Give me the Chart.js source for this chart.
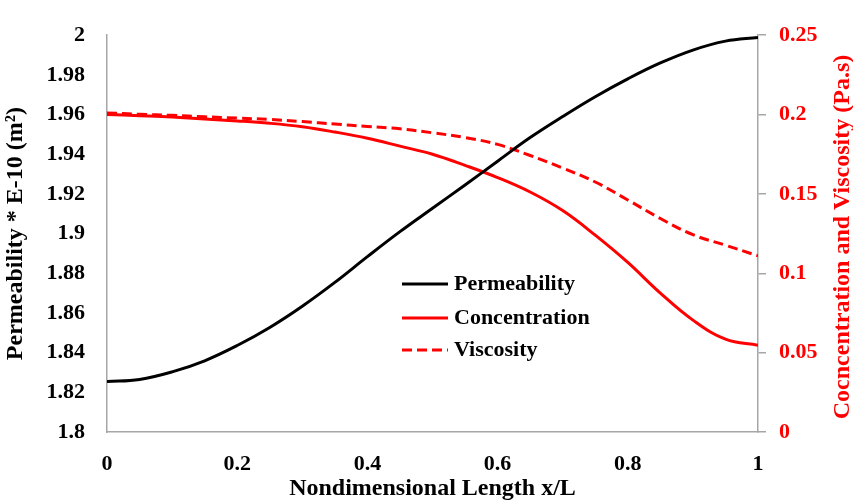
<!DOCTYPE html>
<html>
<head>
<meta charset="utf-8">
<script src="https://cdn.jsdelivr.net/npm/chart.js@4/dist/chart.umd.min.js"></script>
<style>
  html, body { margin: 0; padding: 0; background: #ffffff; }
  #wrap { width: 853px; height: 502px; }
</style>
</head>
<body>
<div id="wrap"><canvas id="c" width="853" height="502"></canvas></div>
<script>
// ---- data ----
const xPositions = [0, 0.05, 0.1, 0.15, 0.2, 0.25, 0.3, 0.35, 0.4, 0.45, 0.5,
                    0.55, 0.6, 0.65, 0.7, 0.75, 0.8, 0.85, 0.9, 0.95, 1.0];
const permeability = [1.8254, 1.8265, 1.8303, 1.8359, 1.8436, 1.8527, 1.8634, 1.8754, 1.8884, 1.9010, 1.9128,
                      1.9245, 1.9365, 1.9484, 1.9590, 1.9690, 1.9780, 1.9860, 1.9925, 1.9970, 1.9989];
const concentration = [0.2000, 0.1993, 0.1984, 0.1972, 0.1960, 0.1945, 0.1923, 0.1890, 0.1851, 0.1801, 0.1750,
                       0.1680, 0.1603, 0.1512, 0.1395, 0.1240, 0.1068, 0.0875, 0.0705, 0.0585, 0.0547];
const viscosity = [0.2010, 0.2002, 0.1995, 0.1986, 0.1978, 0.1969, 0.1956, 0.1940, 0.1925, 0.1910, 0.1885,
                   0.1855, 0.1812, 0.1742, 0.1663, 0.1575, 0.1462, 0.1345, 0.1243, 0.1177, 0.1110];
const seriesNames = ['Permeability', 'Concentration', 'Viscosity'];
const xTicks = [0, 0.2, 0.4, 0.6, 0.8, 1];
const leftTicks = [1.8, 1.82, 1.84, 1.86, 1.88, 1.9, 1.92, 1.94, 1.96, 1.98, 2];
const rightTicks = [0, 0.05, 0.1, 0.15, 0.2, 0.25];
const xTitle = 'Nondimensional Length x/L';
const leftTitle = 'Permeability * E-10 (m\u00B2)';
const rightTitle = 'Cocncentration and Viscosity (Pa.s)';

const pts = (ys) => xPositions.map((x, i) => ({ x: x, y: ys[i] }));
const fmt = (v) => String(parseFloat(Number(v).toFixed(3)));

const FAMILY = "'Liberation Serif', 'Times New Roman', serif";
Chart.defaults.font.family = FAMILY;
Chart.defaults.font.weight = 'bold';
Chart.defaults.font.size = 22;
Chart.defaults.color = '#000000';

const axisGray = '#a6a6a6';

const legendPlugin = {
  id: 'insideLegend',
  afterDraw(chart) {
    const ctx = chart.ctx;
    const rows = [284, 318, 350];
    ctx.save();
    chart.data.datasets.forEach((ds, i) => {
      const y = rows[i];
      ctx.beginPath();
      ctx.strokeStyle = ds.borderColor;
      ctx.lineWidth = ds.borderWidth;
      ctx.setLineDash(ds.borderDash || []);
      ctx.moveTo(402, y);
      ctx.lineTo(448, y);
      ctx.stroke();
      ctx.setLineDash([]);
      ctx.fillStyle = '#000000';
      ctx.font = "bold 22px " + FAMILY;
      ctx.textBaseline = 'middle';
      ctx.textAlign = 'left';
      ctx.fillText(ds.label, 454, y);
    });
    ctx.restore();
  }
};

const rightTitlePlugin = {
  id: 'rightTitle',
  afterDraw(chart) {
    const ctx = chart.ctx;
    ctx.save();
    ctx.translate(843, 237);
    ctx.rotate(-Math.PI / 2);
    ctx.fillStyle = '#ff0000';
    ctx.font = "bold 24px " + FAMILY;
    ctx.textAlign = 'center';
    ctx.textBaseline = 'middle';
    ctx.fillText(rightTitle, 0, 0);
    ctx.restore();
  }
};

new Chart(document.getElementById('c'), {
  type: 'line',
  data: {
    datasets: [
      { label: seriesNames[0], data: pts(permeability), yAxisID: 'y',
        borderColor: '#000000', borderWidth: 3, pointRadius: 0, tension: 0.4, fill: false },
      { label: seriesNames[1], data: pts(concentration), yAxisID: 'y1',
        borderColor: '#ff0000', borderWidth: 3, pointRadius: 0, tension: 0.4, fill: false },
      { label: seriesNames[2], data: pts(viscosity), yAxisID: 'y1',
        borderColor: '#ff0000', borderWidth: 3, borderDash: [10, 5], pointRadius: 0, tension: 0.4, fill: false }
    ]
  },
  options: {
    responsive: false,
    animation: false,
    devicePixelRatio: 1,
    layout: { padding: { top: 15, left: 0, right: 0, bottom: 0 } },
    plugins: { legend: { display: false }, tooltip: { enabled: false } },
    scales: {
      x: {
        type: 'linear', min: 0, max: 1,
        afterFit(s) { s.height = 70; },
        afterBuildTicks(s) { s.ticks = xTicks.map(v => ({ value: v })); },
        grid: { display: false, drawTicks: false },
        border: { display: true, color: axisGray, width: 1.5 },
        ticks: { padding: 19, color: '#000000', callback: fmt, maxRotation: 0, autoSkip: false },
        title: { display: true, text: xTitle, color: '#000000',
                 font: { size: 24, weight: 'bold', lineHeight: 1 }, padding: { top: 0, bottom: 1 } }
      },
      y: {
        type: 'linear', position: 'left', min: 1.8, max: 2,
        afterFit(s) { s.width = 107; },
        afterBuildTicks(s) { s.ticks = leftTicks.map(v => ({ value: v })); },
        grid: { display: false, drawTicks: false },
        border: { display: true, color: axisGray, width: 1.5 },
        ticks: { padding: 22, color: '#000000', callback: fmt, autoSkip: false },
        title: { display: true, text: leftTitle, color: '#000000',
                 font: { size: 24, weight: 'bold', lineHeight: 1 }, padding: { top: 4, bottom: 0 } }
      },
      y1: {
        type: 'linear', position: 'right', min: 0, max: 0.25,
        afterFit(s) { s.width = 95; },
        afterBuildTicks(s) { s.ticks = rightTicks.map(v => ({ value: v })); },
        grid: { display: true, drawOnChartArea: false, drawTicks: true, tickLength: 8,
                color: axisGray, lineWidth: 1.5 },
        border: { display: true, color: axisGray, width: 1.5 },
        ticks: { padding: 13, color: '#ff0000', callback: fmt, autoSkip: false },
        title: { display: false }
      }
    }
  },
  plugins: [legendPlugin, rightTitlePlugin]
});
</script>
</body>
</html>
